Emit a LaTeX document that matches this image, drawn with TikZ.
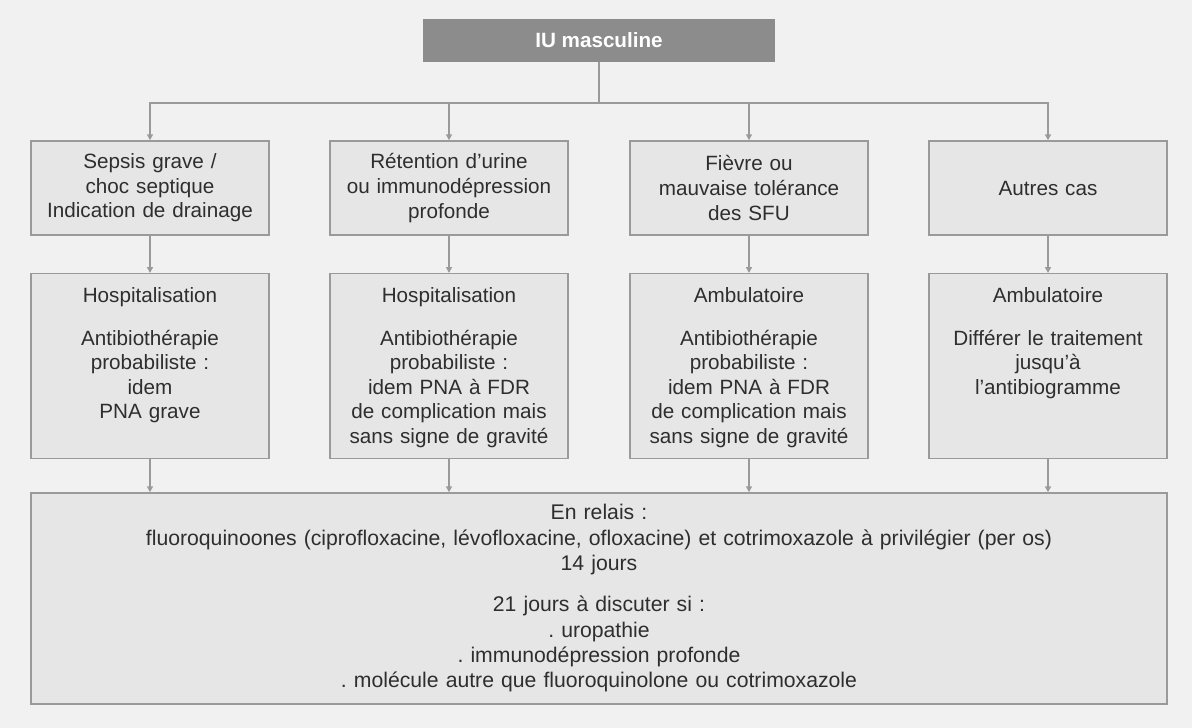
\documentclass[tikz,border=0pt]{standalone}
\usepackage{fontspec}
\setmainfont{Liberation Sans}
\usetikzlibrary{arrows.meta}

\definecolor{fond}{HTML}{F1F1F1}
\definecolor{boite}{HTML}{E6E6E6}
\definecolor{trait}{HTML}{9A9A9A}
\definecolor{titre}{HTML}{8C8C8C}
\definecolor{texte}{HTML}{2E2E2E}

\begin{document}
\frenchspacing
\begin{tikzpicture}[x=0.75pt,y=-0.75pt,>={Triangle[width=4.5pt,length=4.5pt]},
every node/.style={font=\fontsize{15.5}{18.4}\selectfont, text=texte, align=center},
cas/.style={draw=trait, line width=1.1pt, fill=boite, text width=168pt,
  minimum width=178.5pt, minimum height=70.5pt, inner xsep=5pt},
prise/.style={cas, text height=21.75pt, text depth=117pt, inner ysep=0pt},
fleche/.style={->, draw=trait, line width=1.1pt}]

\fill[fond] (0,0) rectangle (1192,728);

% titre
\node[fill=titre, text=white, minimum width=264pt, minimum height=32.25pt,
  font=\fontsize{15.5}{18.4}\selectfont\bfseries] (iu) at (599,40.5) {IU masculine};
\coordinate (bus) at (599,103);

% situations cliniques
\node[cas] (sepsis) at (150,188) {Sepsis grave /\\ choc septique\\ Indication de drainage};
\node[cas] (retention) at (449,188) {Rétention d'urine\\ ou immunodépression\\ profonde};
\node[cas] (fievre) at (749,188) {Fièvre ou\\ mauvaise tolérance\\ des SFU};
\node[cas] (autres) at (1048,188) {Autres cas};

% prise en charge
\node[prise] (hosp1) at (150,273) [anchor=north] {Hospitalisation\\[13.5pt]
  Antibiothérapie\\ probabiliste :\\ idem\\ PNA grave};
\node[prise] (hosp2) at (449,273) [anchor=north] {Hospitalisation\\[13.5pt]
  Antibiothérapie\\ probabiliste :\\ idem PNA à FDR\\ de complication mais\\ sans signe de gravité};
\node[prise] (ambu1) at (749,273) [anchor=north] {Ambulatoire\\[13.5pt]
  Antibiothérapie\\ probabiliste :\\ idem PNA à FDR\\ de complication mais\\ sans signe de gravité};
\node[prise] (ambu2) at (1048,273) [anchor=north] {Ambulatoire\\[13.5pt]
  Différer le traitement\\ jusqu'à\\ l'antibiogramme};

% relais
\node[cas, text width=840pt, minimum width=852pt, minimum height=158.25pt,
  font=\fontsize{15.9}{19}\selectfont] (relais) at (599,598.5)
  {En relais :\\ fluoroquinoones (ciprofloxacine, lévofloxacine, ofloxacine) et cotrimoxazole à privilégier (per os)\\ 14 jours\\[12pt]
   21 jours à discuter si :\\ . uropathie\\ . immunodépression profonde\\ . molécule autre que fluoroquinolone ou cotrimoxazole};

% liaisons
\draw[draw=trait, line width=1.1pt] (iu) -- (bus);
\draw[fleche] (bus) -| (sepsis);
\draw[fleche] (bus) -| (retention);
\draw[fleche] (bus) -| (fievre);
\draw[fleche] (bus) -| (autres);

\draw[fleche] (sepsis) -- (hosp1);
\draw[fleche] (retention) -- (hosp2);
\draw[fleche] (fievre) -- (ambu1);
\draw[fleche] (autres) -- (ambu2);

\draw[fleche] (hosp1) -- (hosp1.south |- relais.north);
\draw[fleche] (hosp2) -- (hosp2.south |- relais.north);
\draw[fleche] (ambu1) -- (ambu1.south |- relais.north);
\draw[fleche] (ambu2) -- (ambu2.south |- relais.north);
\end{tikzpicture}
\end{document}
